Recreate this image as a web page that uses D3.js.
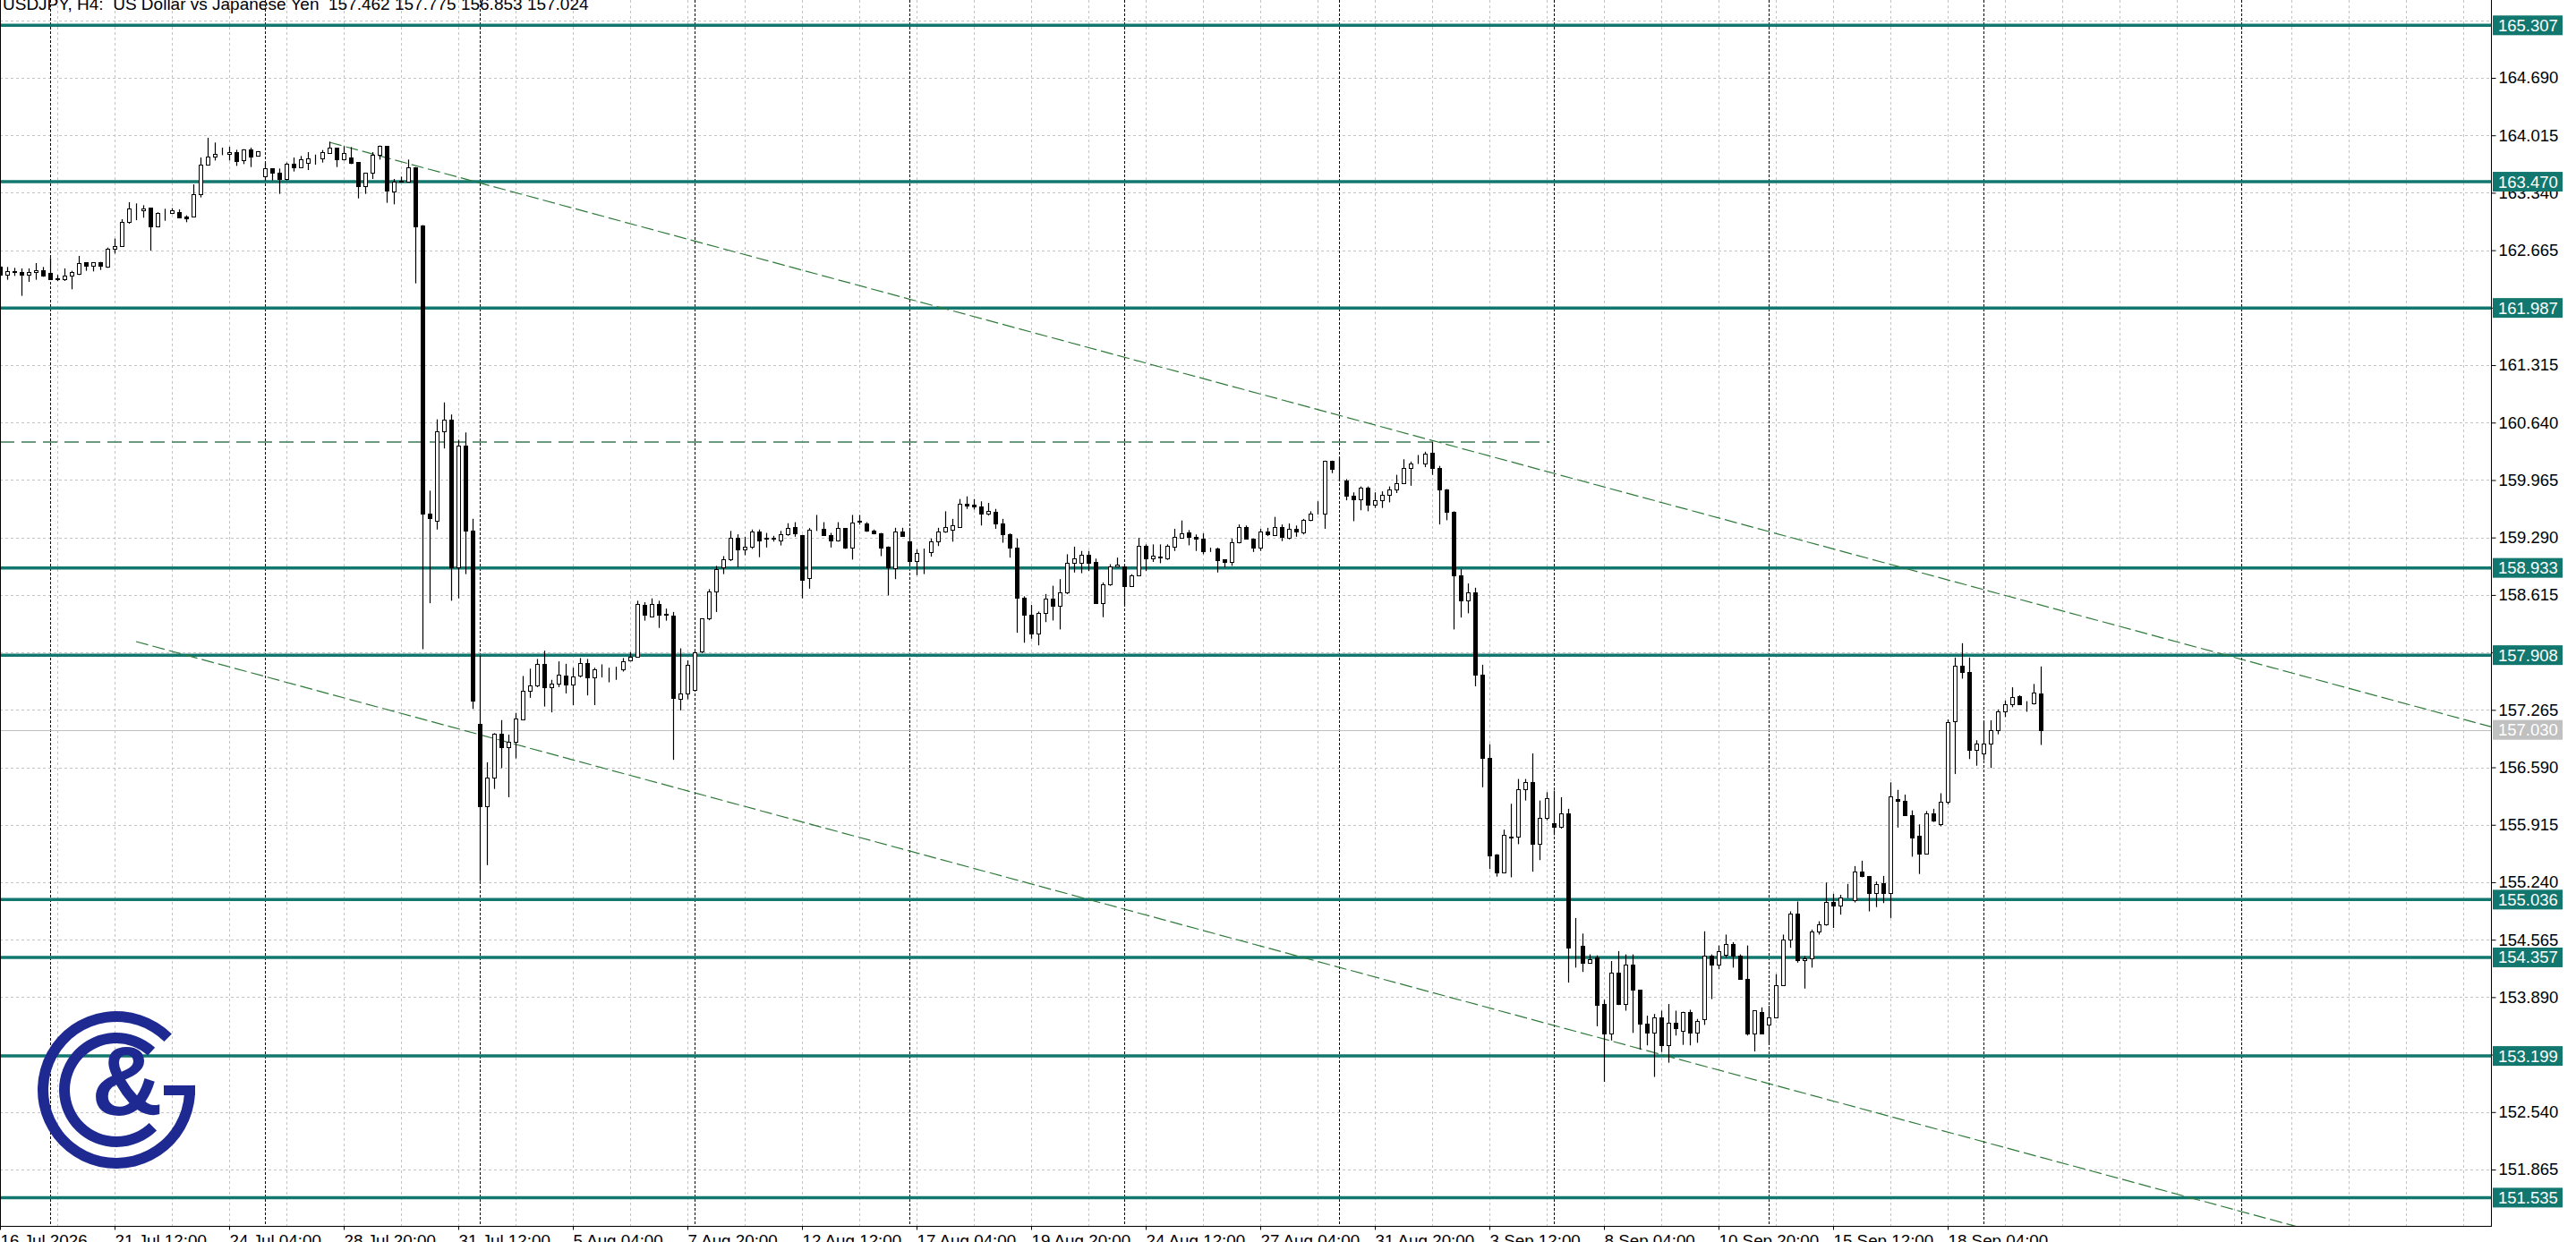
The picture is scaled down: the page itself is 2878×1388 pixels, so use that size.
<!DOCTYPE html>
<html>
<head>
<meta charset="utf-8">
<script src="https://cdn.jsdelivr.net/npm/d3@7/dist/d3.min.js"></script>
<style>
html,body{margin:0;padding:0;background:#fff;}
svg{display:block;}
text{font-family:"Liberation Sans",Arial,sans-serif;}
</style>
</head>
<body>
<svg id="chart" width="2878" height="1388"></svg>
<script>
// ---- DATA (USDJPY H4) ----
const titleText = "USDJPY, H4:  US Dollar vs Japanese Yen  157.462 157.775 156.853 157.024";
const opens = [162.468,162.374,162.416,162.409,162.374,162.405,162.430,162.398,162.330,162.328,162.363,162.391,162.521,162.479,162.521,162.468,162.679,162.714,162.994,163.130,163.131,163.166,162.948,163.110,163.099,163.110,163.057,163.064,163.327,163.667,163.761,163.810,163.793,163.817,163.719,163.845,163.775,163.537,163.625,163.579,163.502,163.677,163.642,163.688,163.740,163.740,163.810,163.870,163.730,163.754,163.702,163.414,163.572,163.789,163.888,163.351,163.485,163.474,163.642,162.957,159.567,159.487,160.541,160.678,158.940,160.370,159.367,157.105,156.136,156.467,156.980,156.831,156.888,157.150,157.493,157.550,157.800,157.532,157.578,157.664,157.561,157.664,157.817,157.646,157.735,157.732,157.740,157.743,157.846,157.891,158.501,158.359,158.512,158.390,158.370,157.390,157.458,157.504,157.948,158.341,158.660,158.945,159.031,159.282,159.145,159.185,159.356,159.280,159.280,159.253,159.327,159.413,159.321,158.814,159.400,159.396,159.316,159.253,159.401,159.173,159.480,159.458,159.367,159.344,159.185,158.929,159.357,159.241,159.015,159.120,159.120,159.241,159.357,159.385,159.416,159.688,159.672,159.657,159.571,159.587,159.454,159.326,159.171,158.587,158.381,158.159,158.404,158.568,158.490,158.646,158.996,158.996,159.085,159.003,158.521,158.743,158.949,158.949,158.723,158.848,159.190,159.042,159.060,159.042,159.182,159.287,159.346,159.299,159.279,159.150,159.159,159.034,159.003,159.229,159.416,159.279,159.171,159.365,159.318,159.416,159.287,159.392,159.353,159.501,159.567,159.567,160.193,159.960,159.960,159.781,159.735,159.871,159.676,159.727,159.793,159.859,159.929,160.104,160.160,160.162,160.287,160.104,159.851,159.587,158.840,158.550,158.650,157.678,156.698,155.570,155.356,155.770,155.773,156.329,156.414,155.687,155.998,155.936,155.889,156.053,154.480,154.489,154.295,154.353,153.809,153.466,154.178,153.809,154.268,153.976,153.575,153.470,153.653,153.330,153.587,153.498,153.711,153.478,153.634,154.373,154.276,154.392,154.509,154.373,154.108,153.466,153.719,153.564,153.653,154.030,154.567,154.870,154.326,154.342,154.664,154.742,155.003,154.968,155.060,155.034,155.364,155.314,155.112,155.228,155.112,156.220,156.200,156.025,155.781,155.578,156.053,155.928,156.181,157.134,157.787,157.709,156.792,156.753,156.869,157.025,157.243,157.336,157.425,157.340,157.340,157.462];
const highs = [162.486,162.468,162.458,162.451,162.451,162.514,162.468,162.574,162.374,162.451,162.423,162.598,162.521,162.521,162.528,162.696,162.801,163.029,163.229,163.215,163.194,163.166,163.110,163.152,163.159,163.145,163.075,163.439,163.754,163.986,163.930,163.870,163.880,163.845,163.852,163.870,163.830,163.695,163.625,163.625,163.695,163.754,163.772,163.817,163.789,163.842,163.940,163.870,163.888,163.877,163.702,163.572,163.817,163.895,163.888,163.502,163.530,163.730,163.642,162.960,159.840,160.678,160.877,160.735,160.438,160.524,159.510,157.903,156.649,156.991,157.145,156.974,157.230,157.663,157.749,157.863,157.960,157.618,157.834,157.806,157.760,157.874,157.863,157.760,157.800,157.760,157.771,157.874,157.943,158.547,158.530,158.575,158.547,158.455,158.415,157.988,157.846,157.960,158.341,158.683,158.957,159.071,159.367,159.327,159.299,159.384,159.384,159.344,159.310,159.367,159.458,159.470,159.321,159.401,159.555,159.470,159.344,159.470,159.401,159.555,159.555,159.470,159.384,159.344,159.185,159.404,159.404,159.404,159.151,159.159,159.279,159.404,159.598,159.509,159.742,159.773,159.742,159.715,159.696,159.626,159.509,159.338,159.279,158.599,158.498,158.420,158.626,158.723,158.801,159.093,159.182,159.132,159.132,159.042,158.762,158.976,159.054,158.949,158.859,159.287,159.209,159.209,159.209,159.209,159.392,159.490,159.377,159.326,159.338,159.171,159.171,159.034,159.279,159.443,159.431,159.279,159.392,159.404,159.532,159.443,159.455,159.431,159.509,159.598,159.715,160.193,160.193,160.232,159.976,159.820,159.890,159.890,159.820,159.832,159.890,160.026,160.209,160.182,160.259,160.298,160.415,160.131,159.859,159.598,158.920,158.750,158.700,157.795,156.862,155.570,155.858,156.162,156.453,156.453,156.753,156.200,156.298,156.317,156.239,156.103,154.820,154.637,154.392,154.381,153.859,154.314,154.431,154.392,154.392,153.976,153.672,153.692,153.731,153.809,153.731,153.719,153.742,153.634,154.664,154.392,154.497,154.625,154.536,154.392,154.497,153.731,153.770,153.789,154.159,154.625,154.898,155.014,154.373,154.684,154.781,155.236,155.104,155.092,155.220,155.430,155.493,155.314,155.248,155.314,156.414,156.325,156.270,156.084,155.920,156.076,156.103,156.286,157.153,157.880,158.048,157.880,156.908,157.134,157.142,157.270,157.375,157.530,157.437,157.367,157.569,157.775];
const lows = [162.363,162.318,162.363,162.129,162.293,162.318,162.353,162.318,162.304,162.304,162.206,162.374,162.423,162.416,162.433,162.458,162.626,162.703,162.976,163.018,163.047,162.661,162.941,163.011,163.089,163.040,162.994,163.054,163.285,163.660,163.719,163.782,163.719,163.656,163.677,163.642,163.770,163.485,163.485,163.327,163.485,163.590,163.635,163.607,163.670,163.695,163.800,163.642,163.719,163.677,163.274,163.327,163.502,163.730,163.222,163.204,163.460,163.467,162.276,157.977,158.518,159.384,160.336,158.547,158.575,158.860,157.276,155.253,155.441,156.336,156.581,156.239,156.695,157.145,157.407,157.533,157.304,157.236,157.533,157.458,157.321,157.646,157.435,157.321,157.646,157.589,157.618,157.715,157.834,157.885,158.313,158.359,158.228,158.313,156.678,157.259,157.390,157.504,157.931,158.318,158.415,158.860,159.014,158.940,159.082,159.156,159.059,159.173,159.242,159.196,159.310,159.299,158.575,158.689,159.367,159.310,159.173,159.242,159.156,159.031,159.441,159.356,159.327,159.071,158.610,158.801,159.300,158.957,158.848,158.860,159.066,159.190,159.346,159.241,159.404,159.626,159.618,159.431,159.548,159.392,159.229,159.054,158.171,158.054,158.101,158.023,158.296,158.315,158.210,158.626,158.879,158.871,158.898,158.510,158.354,158.723,158.940,158.490,158.720,158.840,158.898,159.003,158.988,159.027,159.132,159.276,159.198,159.132,159.093,159.120,158.879,158.937,158.957,159.221,159.268,159.120,159.132,159.307,159.307,159.248,159.268,159.299,159.326,159.482,159.560,159.392,160.046,159.948,159.727,159.482,159.610,159.598,159.637,159.637,159.703,159.812,159.921,159.898,160.154,160.116,160.026,159.443,159.493,158.210,158.350,158.400,157.542,156.356,155.395,155.306,155.345,155.298,155.687,156.200,155.364,155.500,155.967,155.792,155.870,154.061,154.237,154.186,154.290,153.548,152.895,153.381,153.797,153.731,153.470,153.276,153.323,152.953,153.245,153.120,153.439,153.330,153.323,153.354,153.564,153.867,154.217,154.353,154.237,154.100,153.439,153.252,153.460,153.330,153.641,154.022,154.470,154.295,153.991,154.237,154.625,154.730,154.703,154.859,155.053,155.003,155.298,154.898,154.948,154.995,154.820,155.882,156.020,155.540,155.337,155.571,155.948,155.897,156.154,156.512,157.632,156.687,156.609,156.675,156.582,156.978,157.180,157.297,157.328,157.243,157.328,156.853];
const closes = [162.381,162.423,162.409,162.381,162.409,162.433,162.363,162.328,162.325,162.363,162.409,162.514,162.479,162.521,162.479,162.679,162.714,162.994,163.152,163.135,163.159,162.948,163.099,163.112,163.131,163.047,163.040,163.327,163.670,163.765,163.800,163.812,163.817,163.712,163.845,163.765,163.824,163.625,163.572,163.502,163.684,163.642,163.730,163.740,163.742,163.817,163.870,163.730,163.810,163.695,163.414,163.572,163.789,163.888,163.369,163.467,163.467,163.642,162.941,159.572,159.515,160.541,160.678,158.940,160.370,159.367,157.378,156.136,156.467,156.980,156.831,156.888,157.162,157.493,157.550,157.800,157.532,157.578,157.675,157.561,157.658,157.817,157.646,157.743,157.730,157.735,157.745,157.834,157.891,158.512,158.387,158.512,158.387,158.385,157.401,157.458,157.789,157.943,158.341,158.660,158.917,159.031,159.287,159.145,159.185,159.356,159.259,159.282,159.284,159.327,159.401,159.338,158.797,159.384,159.405,159.316,159.253,159.401,159.173,159.470,159.482,159.367,159.344,159.173,158.935,159.365,159.307,159.015,159.112,159.122,159.241,159.357,159.416,159.431,159.688,159.668,159.657,159.571,159.598,159.454,159.326,159.171,158.587,158.381,158.159,158.404,158.568,158.490,158.646,158.996,159.042,159.085,158.996,158.521,158.743,158.949,158.976,158.723,158.848,159.190,159.042,159.073,159.065,159.190,159.295,159.338,159.299,159.276,159.132,159.152,159.027,159.003,159.229,159.416,159.279,159.171,159.365,159.326,159.416,159.299,159.392,159.365,159.501,159.571,159.569,160.193,160.092,159.958,159.781,159.735,159.871,159.676,159.727,159.793,159.859,159.929,160.104,160.154,160.162,160.279,160.104,159.851,159.587,158.840,158.550,158.650,157.678,156.698,155.559,155.356,155.792,155.775,156.329,156.414,155.687,155.998,156.231,155.889,156.045,154.470,154.482,154.295,154.334,153.797,153.466,154.178,153.809,154.268,153.976,153.575,153.470,153.653,153.330,153.587,153.525,153.711,153.478,153.614,154.373,154.276,154.431,154.509,154.373,154.108,153.466,153.731,153.466,153.653,154.030,154.567,154.870,154.326,154.342,154.664,154.742,155.003,154.968,155.065,155.062,155.364,155.314,155.112,155.220,155.112,156.251,156.200,156.025,155.765,155.578,156.053,155.967,156.181,157.126,157.787,157.709,156.792,156.869,156.869,157.025,157.243,157.328,157.414,157.336,157.345,157.464,157.024];

const gridPrices = [165.365,164.690,164.015,163.340,162.665,161.990,161.315,160.640,159.965,159.290,158.615,157.940,157.265,156.590,155.915,155.240,154.565,153.890,153.215,152.540,151.865];
const priceTickLabels = [164.690,164.015,163.340,162.665,161.990,161.315,160.640,159.965,159.290,158.615,157.940,157.265,156.590,155.915,155.240,154.565,153.890,153.215,152.540,151.865];
const timeLabels = ["16 Jul 2026","21 Jul 12:00","24 Jul 04:00","28 Jul 20:00","31 Jul 12:00","5 Aug 04:00","7 Aug 20:00","12 Aug 12:00","17 Aug 04:00","19 Aug 20:00","24 Aug 12:00","27 Aug 04:00","31 Aug 20:00","3 Sep 12:00","8 Sep 04:00","10 Sep 20:00","15 Sep 12:00","18 Sep 04:00"];
const timeLabelBars = [0,16,32,48,64,80,96,112,128,144,160,176,192,208,224,240,256,272];
const weekSeparatorBars = [7,37,67,97,127,157,187,217,247,277,313];
const levels = [165.307,163.470,161.987,158.933,157.908,155.036,154.357,153.199,151.535];
const bidPrice = 157.030;
const channelTop = [[46,163.933],[200,160.430]];
const channelBottom = [[19,158.067],[125,155.653]];
const resistanceDash = {price:160.412, fromBar:0, toBar:216.4};

// ---- LAYOUT ----
const W = 2878, H = 1388, plotR = 2783, plotB = 1370;
const svg = d3.select("#chart");
svg.append("rect").attr("width",W).attr("height",H).attr("fill","#fff");

const x = d3.scaleLinear().domain([0, plotR/8]).range([0, plotR]);
const y = d3.scaleLinear().domain([164.690, 151.865]).range([87, 1307]);

svg.append("defs").append("clipPath").attr("id","plotClip")
  .append("rect").attr("x",0).attr("y",0).attr("width",plotR).attr("height",plotB);

const plot = svg.append("g").attr("clip-path","url(#plotClip)");

// grid
const gridCol = "#c3c3c3";
plot.append("g").selectAll("line").data(gridPrices).join("line")
  .attr("x1",0).attr("x2",plotR)
  .attr("y1",d=>Math.round(y(d))+0.5).attr("y2",d=>Math.round(y(d))+0.5)
  .attr("stroke",gridCol).attr("stroke-width",1).attr("stroke-dasharray","3,3");
const vGrid = d3.range(8, plotR/8, 8);
plot.append("g").selectAll("line").data(vGrid).join("line")
  .attr("x1",d=>Math.round(x(d))+0.5).attr("x2",d=>Math.round(x(d))+0.5)
  .attr("y1",0).attr("y2",plotB)
  .attr("stroke",gridCol).attr("stroke-width",1).attr("stroke-dasharray","3,3");

// week separators
plot.append("g").selectAll("line").data(weekSeparatorBars).join("line")
  .attr("x1",d=>Math.round(x(d))+0.5).attr("x2",d=>Math.round(x(d))+0.5)
  .attr("y1",0).attr("y2",plotB)
  .attr("stroke","#000").attr("stroke-width",1).attr("stroke-dasharray","3,2");

// bid line
plot.append("line").attr("x1",0).attr("x2",plotR)
  .attr("y1",Math.round(y(bidPrice))+0.5).attr("y2",Math.round(y(bidPrice))+0.5)
  .attr("stroke","#c0c0c0").attr("stroke-width",1);

// horizontal levels
const teal = "#12786f";
plot.append("g").selectAll("line").data(levels).join("line")
  .attr("x1",0).attr("x2",plotR)
  .attr("y1",d=>y(d)).attr("y2",d=>y(d))
  .attr("stroke",teal).attr("stroke-width",3.5);

// dashed resistance
plot.append("line")
  .attr("x1",x(resistanceDash.fromBar)).attr("x2",x(resistanceDash.toBar))
  .attr("y1",y(resistanceDash.price)).attr("y2",y(resistanceDash.price))
  .attr("stroke","#3d7a55").attr("stroke-width",1.4).attr("stroke-dasharray","16,8");

// channel lines (rays to right edge)
function ray(pts){
  const [[i1,p1],[i2,p2]] = pts;
  const s = (p2-p1)/(i2-i1);
  const iEnd = plotR/8;
  return [[x(i1),y(p1)],[x(iEnd),y(p1+(iEnd-i1)*s)]];
}
[channelTop, channelBottom].forEach(pts=>{
  const seg = ray(pts);
  plot.append("line")
    .attr("x1",seg[0][0]).attr("y1",seg[0][1]).attr("x2",seg[1][0]).attr("y2",seg[1][1])
    .attr("stroke","#2f7a3a").attr("stroke-width",1.2).attr("stroke-dasharray","14,5");
});

// candles
const idx = d3.range(opens.length);
const cg = plot.append("g");
cg.selectAll("line.wick").data(idx).join("line").attr("class","wick")
  .attr("x1",i=>Math.round(x(i))+0.5).attr("x2",i=>Math.round(x(i))+0.5)
  .attr("y1",i=>y(highs[i])).attr("y2",i=>y(lows[i]))
  .attr("stroke","#000").attr("stroke-width",1.2);
cg.selectAll("rect.body").data(idx).join("rect").attr("class","body")
  .attr("x",i=>Math.round(x(i))-2+0.5)
  .attr("width",4)
  .attr("y",i=>Math.round(y(Math.max(opens[i],closes[i])))+0.5)
  .attr("height",i=>Math.max(0, Math.round(y(Math.min(opens[i],closes[i]))) - Math.round(y(Math.max(opens[i],closes[i])))))
  .attr("fill",i=>closes[i]>=opens[i]?"#fff":"#000")
  .attr("stroke","#000").attr("stroke-width",1);

// logo
const logoBlue = "#1e2a92";
const logo = svg.append("g").attr("transform","translate(130,1218)");
logo.append("path").attr("d", d3.arc()({innerRadius:76, outerRadius:88, startAngle:Math.PI/2-0.06, endAngle:2*Math.PI+0.78})).attr("fill",logoBlue);
logo.append("path").attr("d", d3.arc()({innerRadius:52, outerRadius:64, startAngle:2.36, endAngle:2*Math.PI+0.74})).attr("fill",logoBlue);
logo.append("rect").attr("x",53).attr("y",-5).attr("width",35).attr("height",11).attr("fill",logoBlue);
logo.append("text").attr("x",12).attr("y",28).attr("text-anchor","middle")
  .attr("font-size",110).attr("font-weight","bold").attr("fill",logoBlue).text("&");

// borders
svg.append("line").attr("x1",0.5).attr("x2",0.5).attr("y1",0).attr("y2",plotB).attr("stroke","#000");
svg.append("line").attr("x1",plotR+0.5).attr("x2",plotR+0.5).attr("y1",0).attr("y2",plotB+0.5).attr("stroke","#000");
svg.append("line").attr("x1",0).attr("x2",plotR+1).attr("y1",plotB+0.5).attr("y2",plotB+0.5).attr("stroke","#000");

// y axis
const yAxis = d3.axisRight(y).tickValues(priceTickLabels).tickSize(5).tickPadding(3).tickFormat(d3.format(".3f"));
const ya = svg.append("g").attr("transform",`translate(${plotR+0.5},0)`).call(yAxis);
ya.select(".domain").remove();
ya.selectAll("text").attr("font-size",18.5).attr("fill","#000").style("font-family","Liberation Sans, Arial, sans-serif");
ya.selectAll("line").attr("stroke","#000");

// x axis
const xAxis = d3.axisBottom(x).tickValues(timeLabelBars).tickSize(4).tickPadding(5)
  .tickFormat((d,i)=>timeLabels[i]);
const xa = svg.append("g").attr("transform",`translate(0,${plotB+0.5})`).call(xAxis);
xa.select(".domain").remove();
xa.selectAll("text").attr("font-size",18.8).attr("fill","#000").attr("text-anchor","start").attr("x",0)
  .style("font-family","Liberation Sans, Arial, sans-serif");
xa.selectAll("line").attr("stroke","#000");

// level labels
const lab = svg.append("g");
const labData = levels.map(p=>({p, bg:teal})).concat([{p:bidPrice, bg:"#c0c0c0"}]);
lab.selectAll("rect").data(labData).join("rect")
  .attr("x",plotR+2).attr("y",d=>y(d.p)-11).attr("width",78).attr("height",22).attr("fill",d=>d.bg);
lab.selectAll("text").data(labData).join("text")
  .attr("x",plotR+8).attr("y",d=>y(d.p)+6.5).attr("font-size",18.5).attr("fill","#fff")
  .text(d=>d3.format(".3f")(d.p));

// title
svg.append("text").attr("x",3).attr("y",11).attr("font-size",19).attr("fill","#000")
  .style("white-space","pre").text(titleText);
</script>
</body>
</html>
